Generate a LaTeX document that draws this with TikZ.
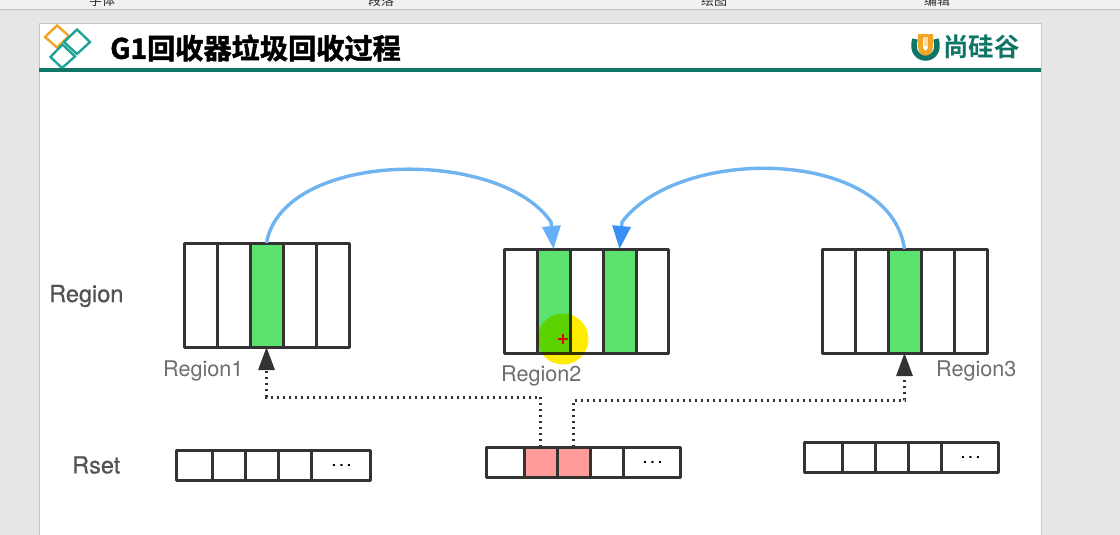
\documentclass[tikz,border=0pt]{standalone}
\usepackage{fontspec}
\usetikzlibrary{arrows.meta}
\setmainfont{TeX Gyre Heros}
\newfontfamily\heavy[FakeBold=0.5]{TeX Gyre Heros}
\newfontfamily\cjk{Noto Sans CJK SC}
\newfontfamily\cjkb[FakeBold=1.6]{Noto Sans CJK SC Bold}
\newfontfamily\cjkm{Noto Sans CJK SC Bold}
\newcommand{\cdotsrow}{\kern2pt\textbf{.\kern3.6pt.\kern3.6pt.}}
\definecolor{pagebg}{HTML}{E6E7E5}
\definecolor{ribbon}{HTML}{F1F1F0}
\definecolor{teal1}{HTML}{0F7566}
\definecolor{teal2}{HTML}{1FA396}
\definecolor{orng}{HTML}{F0A526}
\definecolor{cellgreen}{HTML}{5CE26E}
\definecolor{cellpink}{HTML}{FF9C9A}
\definecolor{edge}{HTML}{333333}
\definecolor{arcblue}{HTML}{6FB3F0}
\definecolor{headl}{HTML}{66B0F7}
\definecolor{headr}{HTML}{3A8FF5}
\definecolor{labelgray}{HTML}{6E6E6E}
\tikzset{
  cellbox/.style={draw=edge,line width=3pt,line join=round,fill=white,anchor=north west,inner sep=0pt,outer sep=0pt},
  tallcell/.style={cellbox,minimum height=104pt},
  shortcell/.style={cellbox,minimum height=30pt},
  arcline/.style={draw=arcblue,line width=3.4pt},
  arcl/.style={arcline,-{Triangle[length=23pt,width=18pt,color=headl,fill=headl]}},
  arcr/.style={arcline,-{Triangle[length=23pt,width=18pt,color=headr,fill=headr]}},
  dotline/.style={draw=edge,line width=3pt,dash pattern=on 2pt off 4pt,-{Triangle[length=23pt,width=16pt,fill=edge]}},
  sidelabel/.style={font=\heavy\fontsize{23.5}{24}\selectfont,text=edge!85,inner sep=0pt},
  reglabel/.style={font=\fontsize{21.6}{22}\selectfont,text=labelgray,inner sep=0pt},
  ribtext/.style={font=\cjk\fontsize{13}{13}\selectfont,text=edge,inner sep=0pt},
  diam/.style={line width=2.4pt,fill=none},
  dotsfont/.style={font=\fontsize{14}{14}\selectfont},
}
\begin{document}
\begin{tikzpicture}[x=1pt,y=-1pt]
\useasboundingbox (0,0) rectangle (1120,535);
\fill[pagebg] (0,0) rectangle (1120,535);
\fill[ribbon] (0,0) rectangle (1120,9);
\draw[gray!50,line width=.8pt] (0,9.5) -- (1120,9.5);
\begin{scope}
\clip (0,0) rectangle (1120,9);
\node[ribtext] (r1) at (102,1) {字体};
\node[ribtext] (r2) at (381,1) {段落};
\node[ribtext] (r3) at (714,1) {绘图};
\node[ribtext] (r4) at (937,1) {编辑};
\end{scope}
\draw[fill=white,draw=gray!45,line width=1pt] (39,23.5) rectangle (1041,540);
% header
\draw[orng,diam] (57,25.5) -- (69,36) -- (57,47.5) -- (45,37) -- cycle;
\draw[teal2,diam] (77,29.5) -- (90,42) -- (77,54) -- (64,42) -- cycle;
\draw[teal2,diam] (62.5,44.5) -- (75,56.5) -- (62,68) -- (50.5,57) -- cycle;
\node[anchor=west,inner sep=0pt,font=\cjkb\fontsize{28.2}{29}\selectfont] (title) at (110,48) {G1回收器垃圾回收过程};
\fill[teal1] (39,68) rectangle (1041,72);
% logo
\draw[teal1,line width=5.5pt] (915,39) .. controls (911,52) and (919,58) .. (925.5,58) .. controls (932,58) and (940,52) .. (936,39);
\draw[orng,line width=5pt] (920.5,36) -- (920.5,46) .. controls (920.5,55.5) and (930.5,55.5) .. (930.5,46) -- (930.5,36);
\fill[orng] (918,34) rectangle (933,38);
\fill[white!60!orng] (923.5,37) rectangle (927.5,46);
\node[anchor=west,inner sep=0pt,font=\cjkm\fontsize{25.5}{26}\selectfont,text=teal1] (logo) at (943,47) {尚硅谷};
% side labels
\node[sidelabel,anchor=west] (lregion) at (49,296) {Region};
\node[sidelabel,anchor=west] (lrset) at (72,465) {Rset};
% Region1
\node[tallcell,minimum width=33pt] (aa) at (184,243) {};
\node[tallcell,minimum width=33pt] (ab) at (217,243) {};
\node[tallcell,minimum width=33pt,fill=cellgreen] (ac) at (250,243) {};
\node[tallcell,minimum width=33pt] (ad) at (283,243) {};
\node[tallcell,minimum width=33pt] (ae) at (316,243) {};
% Region2
\node[tallcell,minimum width=33pt] (ba) at (504,249) {};
\node[tallcell,minimum width=33pt,fill=cellgreen] (bb) at (537,249) {};
\node[tallcell,minimum width=33pt] (bc) at (570,249) {};
\node[tallcell,minimum width=33pt,fill=cellgreen] (bd) at (603,249) {};
\node[tallcell,minimum width=32pt] (be) at (636,249) {};
% Region3
\node[tallcell,minimum width=33pt] (ca) at (822,249) {};
\node[tallcell,minimum width=33pt] (cb) at (855,249) {};
\node[tallcell,minimum width=33pt,fill=cellgreen] (cc) at (888,249) {};
\node[tallcell,minimum width=33pt] (cd) at (921,249) {};
\node[tallcell,minimum width=33pt] (ce) at (954,249) {};
% Rset1
\node[shortcell,minimum width=36pt] (pa) at (176,450) {};
\node[shortcell,minimum width=33pt] (pb) at (212,450) {};
\node[shortcell,minimum width=33pt] (pc) at (245,450) {};
\node[shortcell,minimum width=33pt] (pd) at (278,450) {};
\node[shortcell,minimum width=59pt,dotsfont] (pe) at (311,450) {\cdotsrow};
% Rset2
\node[shortcell,minimum width=38pt] (qa) at (486,447) {};
\node[shortcell,minimum width=33pt,fill=cellpink] (qb) at (524,447) {};
\node[shortcell,minimum width=33pt,fill=cellpink] (qc) at (557,447) {};
\node[shortcell,minimum width=33pt] (qd) at (590,447) {};
\node[shortcell,minimum width=57pt,dotsfont] (qe) at (623,447) {\cdotsrow};
% Rset3
\node[shortcell,minimum width=38pt] (sa) at (804,442) {};
\node[shortcell,minimum width=33pt] (sb) at (842,442) {};
\node[shortcell,minimum width=33pt] (sc) at (875,442) {};
\node[shortcell,minimum width=33pt] (sd) at (908,442) {};
\node[shortcell,minimum width=57pt,dotsfont] (se) at (941,442) {\cdotsrow};
% region names
\node[reglabel,anchor=west] (n1) at (163,371) {Region1};
\node[reglabel,anchor=west] (n2) at (501,376) {Region2};
\node[reglabel,anchor=west] (n3) at (936,371) {Region3};
% arcs
\coordinate (neckl) at (551,222);
\coordinate (neckr) at (622,222);
\draw[arcl] (ac.north) .. controls (283,150) and (500,147) .. (neckl) -- (bb.north);
\draw[arcr] (cc.north) .. controls (890,148) and (680,145) .. (neckr) -- (bd.north);
% dotted
\coordinate (bendl) at (400,397);
\coordinate (bendr) at (740,400);
\draw[dotline] (qb.north) |- (bendl) -| (ac.south);
\draw[dotline] (qc.north) |- (bendr) -| (cc.south);
% pointer highlight
\begin{scope}
\pgfsetblendmode{multiply}
\fill[yellow!95!orange] (563,339) circle[radius=25.5];
\end{scope}
\draw[red!90!black,line width=1.3pt] (558,339) -- (568,339) (563,334) -- (563,344);
\end{tikzpicture}
\end{document}
